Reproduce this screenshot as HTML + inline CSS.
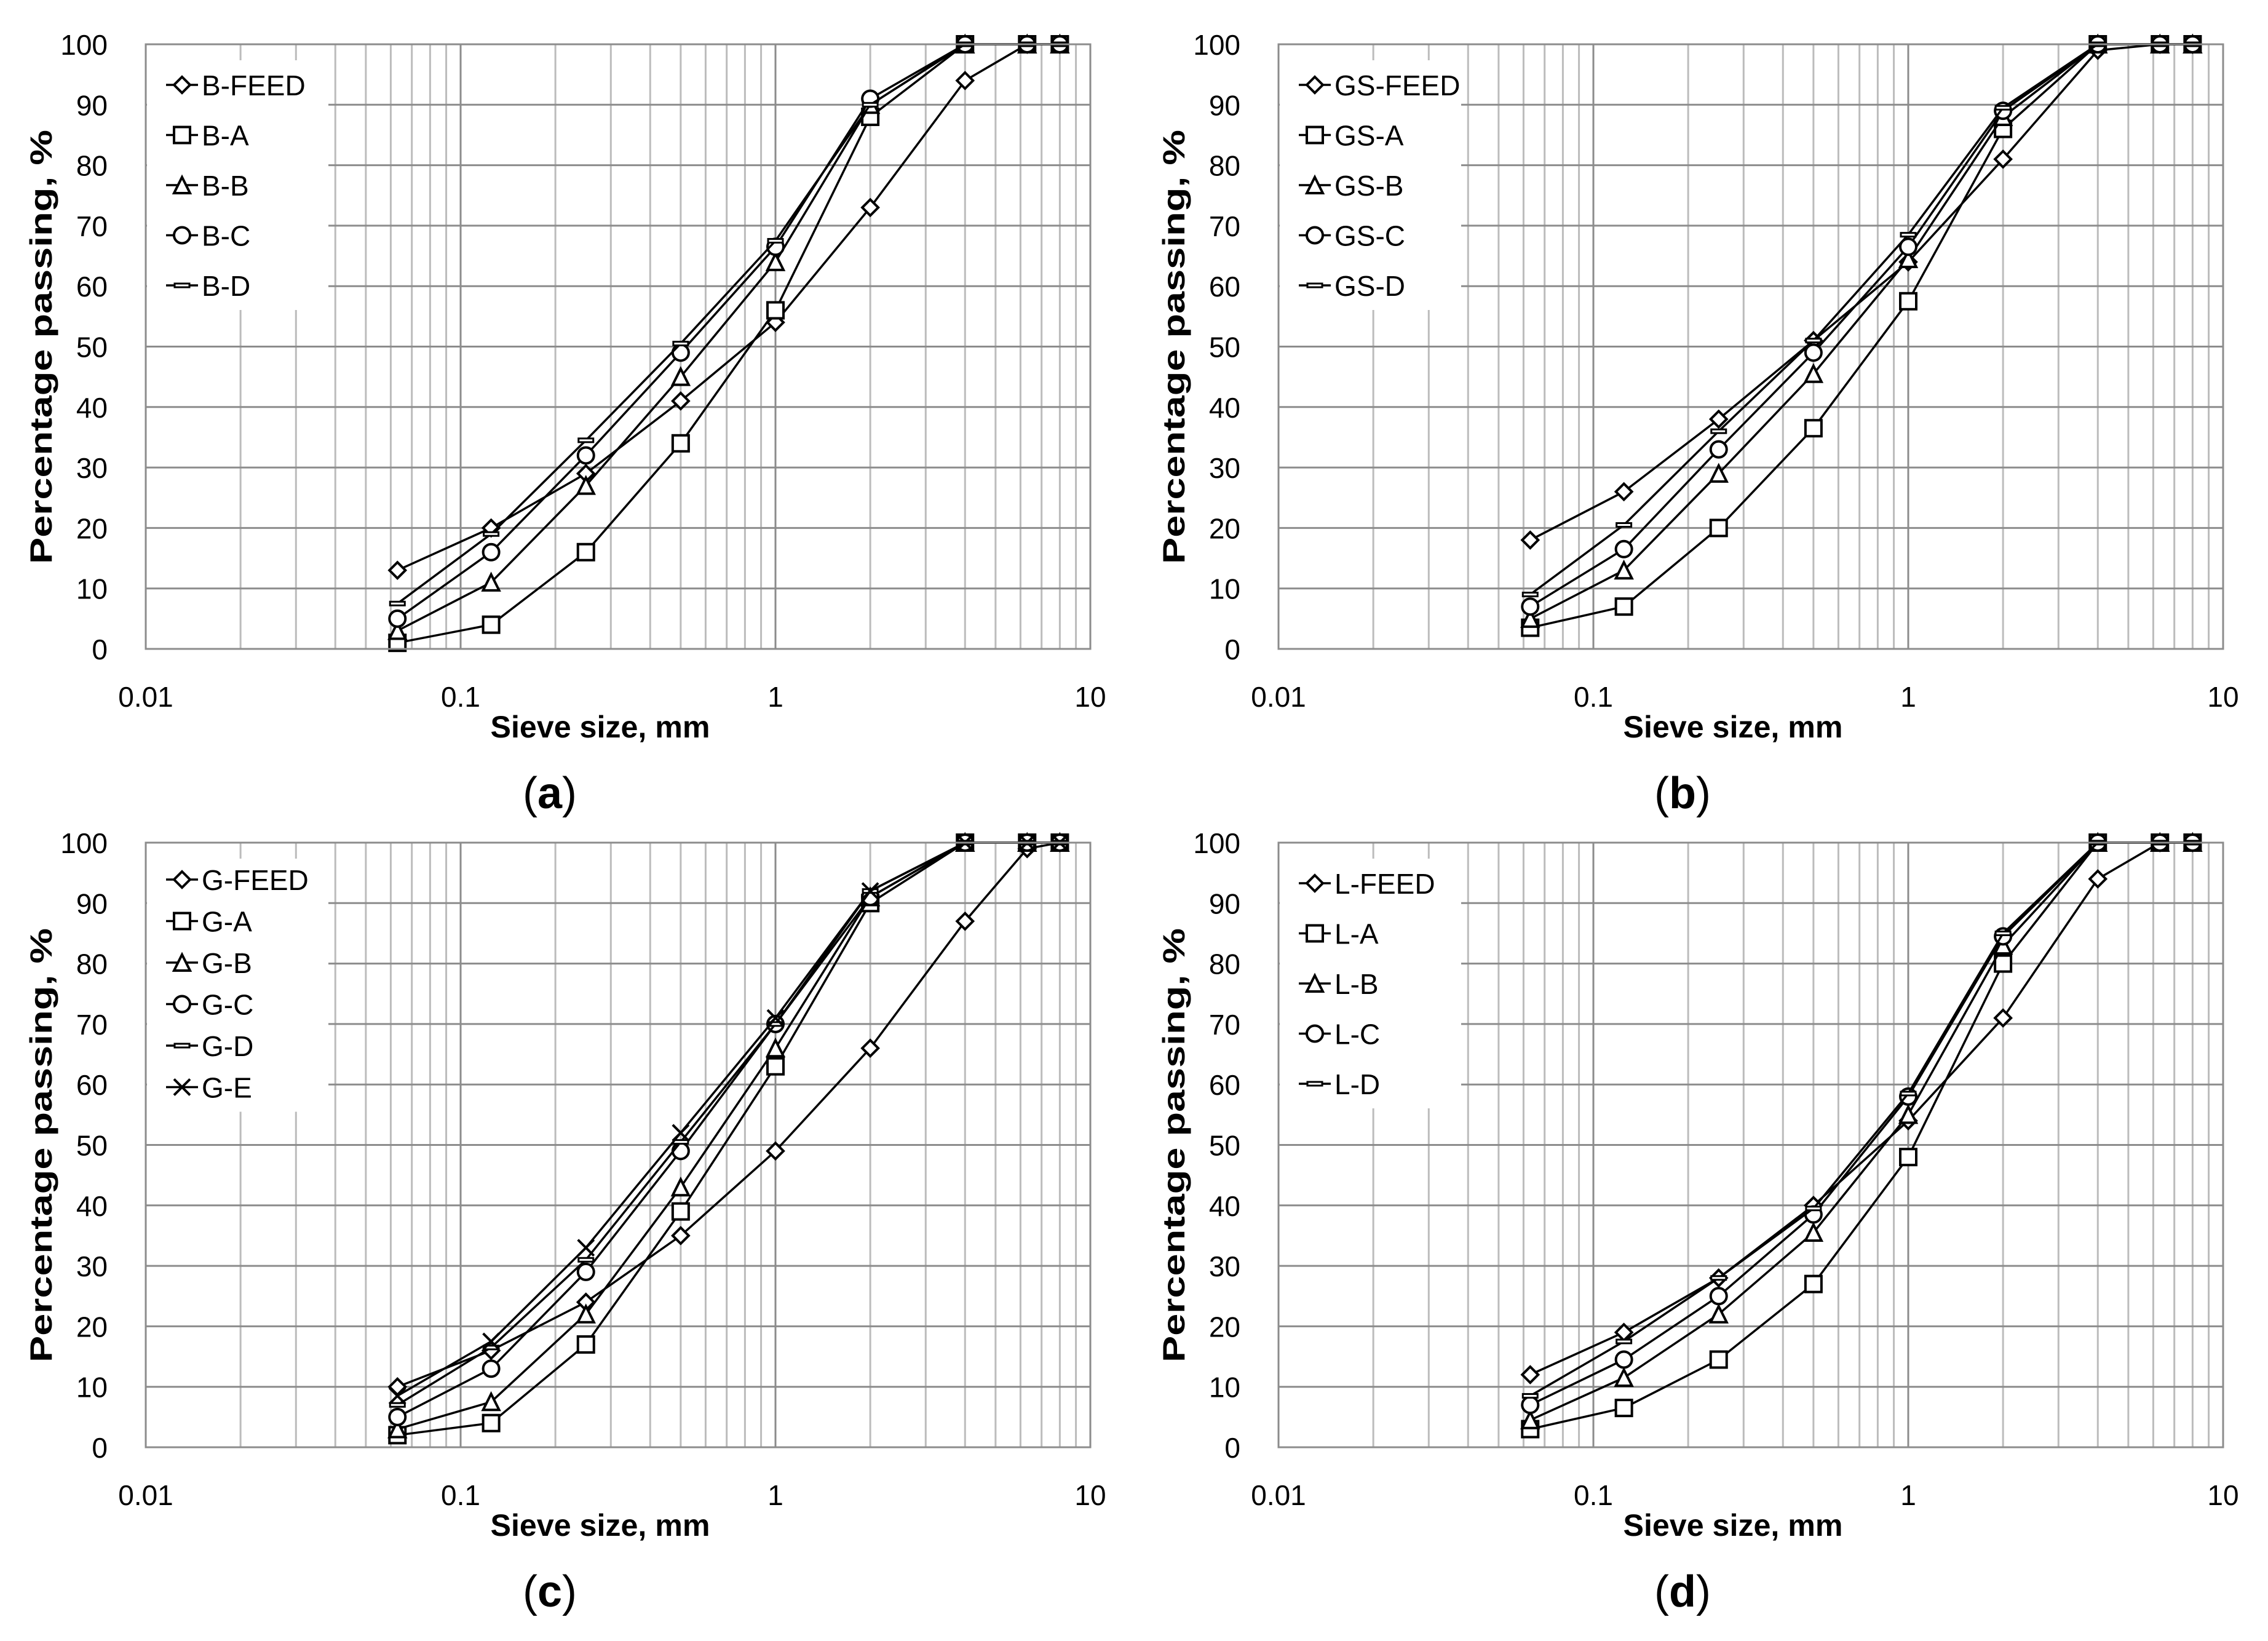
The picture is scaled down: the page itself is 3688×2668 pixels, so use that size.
<!DOCTYPE html>
<html><head><meta charset="utf-8"><style>
html,body{margin:0;padding:0;background:#fff;}
svg{display:block;}
text{font-family:"Liberation Sans",sans-serif;fill:#000;}
</style></head>
<body>
<svg id="fig" width="3688" height="2668" viewBox="0 0 3688 2668" xmlns="http://www.w3.org/2000/svg">
<rect width="3688" height="2668" fill="#fff"/>
</svg>
<script>
const sizes = [0.063, 0.125, 0.25, 0.5, 1, 2, 4, 6.3, 8];
const yTicks = [0,10,20,30,40,50,60,70,80,90,100];
const xTickLabels = ["0.01","0.1","1","10"];
const xTickValues = [0.01,0.1,1,10];

const namesA = ["B-FEED","B-A","B-B","B-C","B-D"];
const feedA = [13,20,29,41,54,73,94,100,100];
const aA = [1,4,16,34,56,88,100,100,100];
const bA = [3,11,27,45,64,90,100,100,100];
const cA = [5,16,32,49,66.5,91,100,100,100];
const dA = [7.5,19,34.5,50.5,67.5,90,100,100,100];

const namesB = ["GS-FEED","GS-A","GS-B","GS-C","GS-D"];
const feedB = [18,26,38,51,64,81,99,100,100];
const aB = [3.5,7,20,36.5,57.5,86,100,100,100];
const bB = [5,13,29,45.5,64.5,88,100,100,100];
const cB = [7,16.5,33,49,66.5,89,100,100,100];
const dB = [9,20.5,36,51,68.5,89.5,100,100,100];

const namesC = ["G-FEED","G-A","G-B","G-C","G-D","G-E"];
const feedC = [10,16,24,35,49,66,87,99,100];
const aC = [2,4,17,39,63,90,100,100,100];
const bC = [3,7.5,22,43,66,91,100,100,100];
const cC = [5,13,29,49,70,91,100,100,100];
const dC = [7,16.5,31,50.5,70,92,100,100,100];
const eC = [8.5,17.5,33,52,71,92,100,100,100];

const namesD = ["L-FEED","L-A","L-B","L-C","L-D"];
const feedD = [12,19,28,40,54,71,94,100,100];
const aD = [3,6.5,14.5,27,48,80,100,100,100];
const bD = [4.5,11.5,22,35.5,55,83,100,100,100];
const cD = [7,14.5,25,38.5,58,84.5,100,100,100];
const dD = [8.5,17.5,28,39.5,58.5,85,100,100,100];

const NS = "http://www.w3.org/2000/svg";
const svg = document.getElementById('fig');
function mk(tag, attrs, parent){
  const e = document.createElementNS(NS, tag);
  for (const k in attrs) e.setAttribute(k, attrs[k]);
  (parent||svg).appendChild(e);
  return e;
}
const markerTypes = ["diamond","square","triangle","circle","dash","cross"];
function marker(g, type, x, y){
  const s = 13;
  let m;
  const st = {fill:"#fff", stroke:"#000", "stroke-width":4};
  if (type==="diamond") m = mk('polygon', Object.assign({points:`${x},${y-s} ${x+s},${y} ${x},${y+s} ${x-s},${y}`}, st), g);
  else if (type==="square") m = mk('rect', Object.assign({x:x-s,y:y-s,width:2*s,height:2*s}, st), g);
  else if (type==="triangle") m = mk('polygon', Object.assign({points:`${x},${y-s} ${x+s},${y+s} ${x-s},${y+s}`}, st), g);
  else if (type==="circle") m = mk('circle', Object.assign({cx:x,cy:y,r:s}, st), g);
  else if (type==="dash") m = mk('rect', Object.assign({x:x-12,y:y-3,width:24,height:6}, {fill:"#fff",stroke:"#000","stroke-width":3}), g);
  else { m = mk('path', {d:`M${x-s} ${y-s}L${x+s} ${y+s}M${x-s} ${y+s}L${x+s} ${y-s}`, stroke:"#000","stroke-width":4, fill:"none"}, g); }
  return m;
}

function panel(id, ox, oy, names, series, letter, legendFirst, legendGap){
  const L = ox+237, R = ox+1773, T = oy+72, B = oy+1055;
  const xs = v => L + (R-L)*(Math.log10(v)+2)/3;
  const ys = v => B - (B-T)*v/100;
  const g = mk('g', {});
  
  
  const grid = mk('g', {}, g);
  
  
  for (let d=-2; d<1; d++){
    for (let k=2;k<=9;k++){
      const x = xs(k*Math.pow(10,d));
      mk('line',{x1:x,y1:T,x2:x,y2:B,stroke:"#bcbcbc","stroke-width":3}, grid);
    }
  }
  for (const t of yTicks){
    mk('line',{x1:L,y1:ys(t),x2:R,y2:ys(t),stroke:"#8c8c8c","stroke-width":3}, grid);
  }
  for (const v of xTickValues){
    mk('line',{x1:xs(v),y1:T,x2:xs(v),y2:B,stroke:"#8c8c8c","stroke-width":3}, grid);
  }
  const lg = mk('g', {}, g);
  
  
  const lbBottom = T + legendFirst + legendGap*(names.length-1) + 40;
  mk('rect',{x:L+2,y:T+26,width:295,height:lbBottom-(T+26),fill:"#fff"}, lg);
  series.forEach((vals, si)=>{
    const sg = mk('g', {}, g);
    
    
    const pts = vals.map((v,i)=>`${xs(sizes[i]).toFixed(1)},${ys(v).toFixed(1)}`).join(' ');
    mk('polyline',{points:pts, fill:"none", stroke:"#000","stroke-width":3.5,"stroke-linejoin":"round"}, sg);
    vals.forEach((v,i)=>{
      const m = marker(sg, markerTypes[si], xs(sizes[i]), ys(v));
      
      
    });
  });
  mk('rect',{x:L,y:T,width:R-L,height:B-T,fill:"none",stroke:"#8c8c8c","stroke-width":3}, g);
  names.forEach((n,i)=>{
    const y = T + legendFirst + legendGap*i;
    const eg = mk('g', {}, lg);
    
    
    mk('line',{x1:L+33,y1:y,x2:L+85,y2:y,stroke:"#000","stroke-width":3.5}, eg);
    marker(eg, markerTypes[i], L+59, y);
    const t = mk('text',{x:L+91,y:y+17,"font-size":46}, eg);
    t.textContent = n;
  });
  const yl = mk('g', {}, g);
  
  
  for (const t of yTicks){
    const tx = mk('text',{x:L-62,y:ys(t)+17,"font-size":46,"text-anchor":"end"}, yl);
    tx.textContent = t;
  }
  const xl = mk('g', {}, g);
  
  
  xTickValues.forEach((v,i)=>{
    const tx = mk('text',{x:xs(v),y:oy+1149,"font-size":46,"text-anchor":"middle"}, xl);
    tx.textContent = xTickLabels[i];
  });
  const xt = mk('text',{x:ox+976,y:oy+1199,"font-size":50,"font-weight":"bold","text-anchor":"middle",textLength:357,lengthAdjust:"spacingAndGlyphs"}, g);
  
  
  xt.textContent = "Sieve size, mm";
  const yt = mk('text',{x:0,y:0,"font-size":50,"font-weight":"bold","text-anchor":"middle",textLength:706,lengthAdjust:"spacingAndGlyphs",transform:`translate(${ox+84},${oy+564}) rotate(-90)`}, g);
  
  
  yt.textContent = "Percentage passing, %";
  const pl = mk('text',{x:ox+894,y:oy+1314,"font-size":72,"text-anchor":"middle","font-family":"Liberation Serif, serif"}, g);
  
  
  pl.innerHTML = '(<tspan font-weight="bold">'+letter+'</tspan>)';
}
panel('a', 0, 0, namesA, [feedA,aA,bA,cA,dA], 'a', 66, 81.5);
panel('b', 1842, 0, namesB, [feedB,aB,bB,cB,dB], 'b', 66, 81.5);
panel('c', 0, 1298, namesC, [feedC,aC,bC,cC,dC,eC], 'c', 60, 67.5);
panel('d', 1842, 1298, namesD, [feedD,aD,bD,cD,dD], 'd', 66, 81.5);
</script>
</body></html>
